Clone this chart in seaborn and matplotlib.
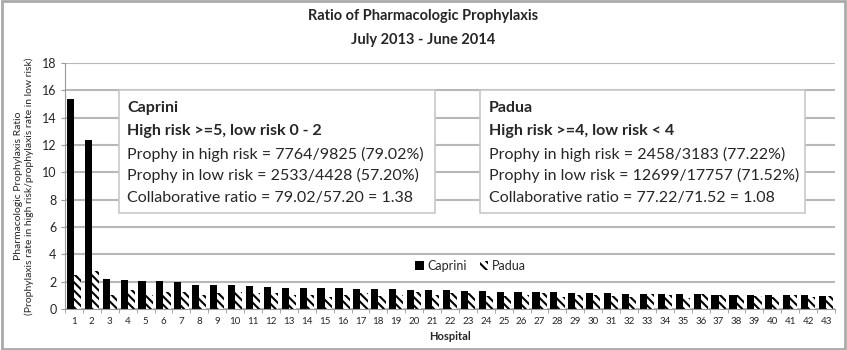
import numpy as np
import pandas as pd
import matplotlib
matplotlib.use("Agg")
import matplotlib.pyplot as plt
import seaborn as sns
from matplotlib.patches import Rectangle, Patch

# Hospitals and ratios
hospitals = [str(i) for i in range(1, 44)]
caprini = [15.4, 12.4, 2.2, 2.14, 2.06, 2.06, 2.0, 1.79, 1.79, 1.79,
           1.69, 1.62, 1.55, 1.55, 1.55, 1.55, 1.48, 1.48, 1.48, 1.4,
           1.4, 1.4, 1.33, 1.33, 1.26, 1.26, 1.26, 1.26, 1.19, 1.19,
           1.19, 1.11, 1.11, 1.11, 1.11, 1.11, 1.04, 1.04, 1.04, 1.04,
           1.04, 1.04, 0.97]
padua = [2.5, 2.75, 1.04, 1.36, 1.04, 1.28, 1.28, 1.04, 1.14, 1.21,
         1.14, 1.14, 1.04, 1.04, 0.85, 1.04, 1.14, 0.97, 1.04, 1.21,
         1.04, 1.14, 1.14, 0.97, 0.97, 1.04, 1.14, 0.9, 1.04, 1.04,
         0.97, 0.9, 1.11, 1.04, 0.82, 1.11, 1.04, 1.04, 0.97, 0.9,
         1.04, 0.9, 0.97]
series_names = ["Caprini", "Padua"]

caprini_text = ["Caprini", "High risk >=5, low risk 0 - 2",
                "Prophy in high risk = 7764/9825 (79.02%)",
                "Prophy in low risk = 2533/4428 (57.20%)",
                "Collaborative ratio = 79.02/57.20 = 1.38"]
padua_text = ["Padua", "High risk >=4, low risk < 4",
              "Prophy in high risk = 2458/3183 (77.22%)",
              "Prophy in low risk = 12699/17757 (71.52%)",
              "Collaborative ratio = 77.22/71.52 = 1.08"]

df = pd.DataFrame({
    "Hospital": hospitals * 2,
    "Ratio": caprini + padua,
    "Score": [series_names[0]] * len(hospitals) + [series_names[1]] * len(hospitals),
})

sns.set_style("white")
plt.rcParams['font.family'] = ['Lato', 'DejaVu Sans']
plt.rcParams['hatch.linewidth'] = 1.5

fig = plt.figure(figsize=(8.47, 3.5), dpi=100)
ax = fig.add_axes([65 / 847, 1 - 309 / 350, 770 / 847, 246 / 350])

sns.barplot(data=df, x="Hospital", y="Ratio", hue="Score",
            palette=["black", "white"], width=0.8, ax=ax, legend=False)

hatch = "\\" * 4
# Hatch the Padua bars
for bar in ax.containers[1]:
    bar.set_hatch(hatch)
    bar.set_edgecolor("black")
    bar.set_linewidth(0)
for bar in ax.containers[0]:
    bar.set_linewidth(0)

ax.set_ylim(0, 18)
ax.set_yticks(range(0, 19, 2))
ax.set_xlim(-0.5, len(hospitals) - 0.5)
ax.yaxis.grid(True, color="#b8b8b8", linewidth=1.5)
ax.set_axisbelow(True)
for s in ["top", "right"]:
    ax.spines[s].set_visible(False)
ax.spines["left"].set_color("#999999")
ax.spines["bottom"].set_color("#999999")

ax.tick_params(axis="y", labelsize=9, length=3, color="#999999", pad=3, left=True)
ax.tick_params(axis="x", labelsize=7, length=0, pad=6)
# minor ticks between categories on the x axis
ax.set_xticks(np.arange(-0.5, len(hospitals), 1), minor=True)
ax.tick_params(axis="x", which="minor", length=3, color="#999999", bottom=True)

ax.set_xlabel("Hospital", fontsize=8, fontweight="bold", labelpad=3)
ax.set_ylabel("Pharmacologic Prophylaxis Ratio\n(Prophylaxis rate in high risk/prophylaxis rate in low risk)",
              fontsize=7.5, labelpad=6)

fig.suptitle("Ratio of Pharmacologic Prophylaxis\nJuly 2013 - June 2014",
             fontsize=10.5, fontweight="bold", y=0.975, linespacing=1.9)

handles = [Patch(facecolor="black", edgecolor="black", linewidth=0),
           Patch(facecolor="white", edgecolor="black", linewidth=0, hatch=hatch)]
ax.legend(handles, series_names, loc="upper left", bbox_to_anchor=(0.44, 0.245), ncol=2,
          frameon=False, fontsize=9, handlelength=0.7, handleheight=0.7,
          handletextpad=0.3, columnspacing=1.0)


def info_box(x0, x1, lines):
    ax.add_patch(Rectangle((x0, 0.391), x1 - x0, 0.499, transform=ax.transAxes,
                           facecolor="white", edgecolor="#c8c8c8", linewidth=1.2,
                           zorder=5))
    ys = [0.818, 0.724, 0.630, 0.541, 0.453]
    for i, (t, y) in enumerate(zip(lines, ys)):
        ax.text(x0 + 0.011, y, t, transform=ax.transAxes, fontsize=11.5,
                fontweight="bold" if i < 2 else "normal", va="center",
                ha="left", zorder=6)


info_box(0.070, 0.480, caprini_text)
info_box(0.539, 0.961, padua_text)

# gray frame round the whole chart
fig.add_artist(Rectangle((0.002, 0.003), 0.996, 0.994, transform=fig.transFigure,
                         fill=False, edgecolor="#aaaaaa", linewidth=2))

fig.savefig("out.png", dpi=100)
